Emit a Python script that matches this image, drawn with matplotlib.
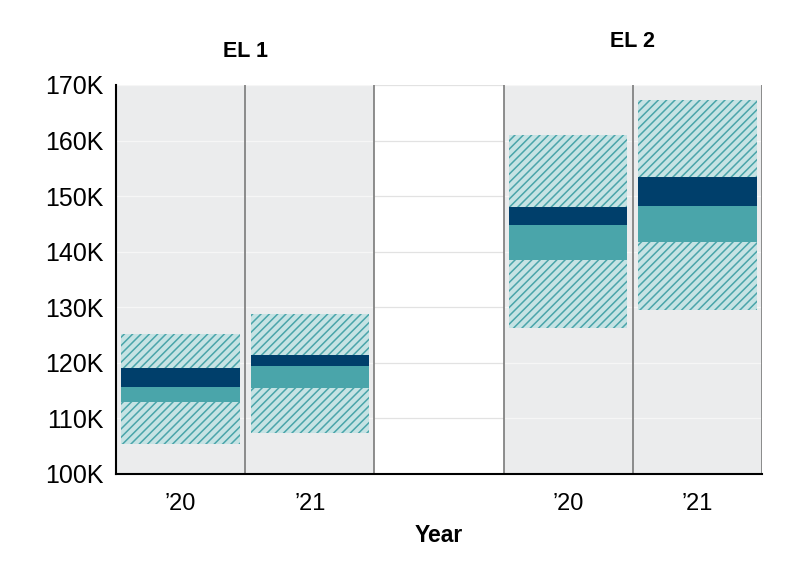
import matplotlib
matplotlib.use("Agg")
import matplotlib.pyplot as plt
import matplotlib.transforms as mtransforms

plt.rcParams['font.family'] = ['Liberation Sans', 'DejaVu Sans']
plt.rcParams['hatch.linewidth'] = 1.1

# data (values in thousands)
groups = ["EL 1", "EL 2"]
years = ["\u201920", "\u201921", "\u201920", "\u201921"]
slots = [0, 1, 3, 4]
range_low = [105.4, 107.4, 126.2, 129.5]
range_high = [125.2, 128.7, 161.0, 167.3]
mid_low = [112.9, 115.4, 138.5, 141.7]
mid_high = [115.6, 119.5, 144.75, 148.3]
top_high = [119.0, 121.4, 148.0, 153.4]
yticks = [100, 110, 120, 130, 140, 150, 160, 170]

navy = "#003f6b"
teal = "#4aa5aa"
light = "#c6e3e4"
panel = "#ebeced"

fig = plt.figure(figsize=(8, 5.64), dpi=100)
ax = fig.add_axes([0.145, 0.1596, 0.8075, 0.6897])

# grid across whole width, then panels, then lighter grid over panels
for v in yticks:
    ax.axhline(v, color="#e2e2e2", lw=0.9, zorder=0)
for s in slots:
    ax.axvspan(s - 0.5, s + 0.5, color=panel, lw=0, zorder=0.5)
    ax.hlines(yticks, s - 0.5, s + 0.5, color="#f6f6f6", lw=0.9, zorder=0.6)
for xv in [0.5, 1.5, 2.5, 3.5, 4.5]:
    ax.axvline(xv, color="#7a7a7a", lw=1.2, zorder=1)

w = 0.915
hb = [h - l for h, l in zip(range_high, range_low)]
ax.bar(slots, hb, bottom=range_low, width=w, color=light, edgecolor=teal,
       hatch="////", lw=0, zorder=2)
ax.bar(slots, [h - l for h, l in zip(mid_high, mid_low)], bottom=mid_low,
       width=w, color=teal, lw=0, zorder=3)
ax.bar(slots, [h - l for h, l in zip(top_high, mid_high)], bottom=mid_high,
       width=w, color=navy, lw=0, zorder=3)

ax.set_xlim(-0.5, 4.5)
ax.set_ylim(100, 170)
ax.set_yticks(yticks)
ax.set_yticklabels([f"{v}K" for v in yticks], fontsize=18)
ax.set_xticks(slots)
ax.set_xticklabels(years, fontsize=17)
ax.tick_params(axis="y", length=0, pad=9)
ax.tick_params(axis="x", length=0, pad=14)
ax.set_xlabel("Year", fontsize=16.5, fontweight="bold", labelpad=6)

for side in ["top", "right"]:
    ax.spines[side].set_visible(False)
ax.spines["left"].set_linewidth(1.5)
ax.spines["bottom"].set_linewidth(1.5)
ax.spines["left"].set_zorder(4)
ax.spines["bottom"].set_zorder(4)

trans = mtransforms.blended_transform_factory(ax.transData, ax.transAxes)
ax.text(0.5, 1.085, groups[0], transform=trans, ha="center", va="center",
        fontsize=15.5, fontweight="bold")
ax.text(3.5, 1.111, groups[1], transform=trans, ha="center", va="center",
        fontsize=15.5, fontweight="bold")

fig.savefig("out.png", dpi=100)
